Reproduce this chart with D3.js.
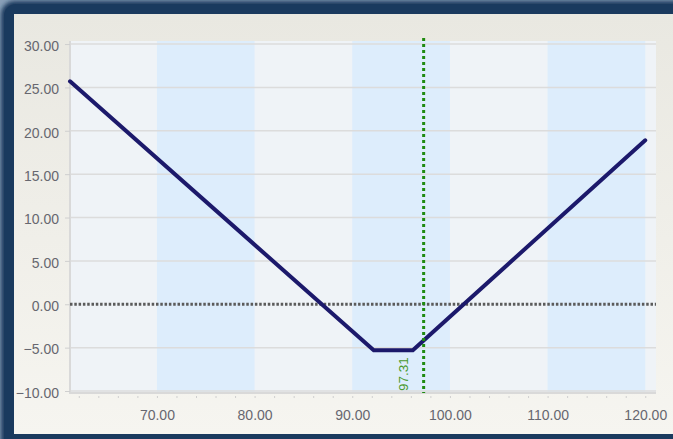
<!DOCTYPE html>
<html><head><meta charset="utf-8">
<script src="https://cdn.jsdelivr.net/npm/d3@7"></script>
<style>html,body{margin:0;padding:0;background:#fff;overflow:hidden}</style>
</head><body>
<svg id="c" width="673" height="439"></svg>
<script>
// Data
const prices = [61.1, 92.2, 96.2, 120];
const profit = [25.7, -5.3, -5.3, 18.9];
const xTicks = [70, 80, 90, 100, 110, 120];
const yTicks = [-10, -5, 0, 5, 10, 15, 20, 25, 30];
const bands = [[70, 80], [90, 100], [110, 120]];
const marker = 97.31;

const svg = d3.select("#c");
const W = 673, H = 439;
const FONT = "Liberation Sans, Arial, sans-serif";
const defs = svg.append("defs");
const blur = defs.append("filter").attr("id","blur").attr("x","-10%").attr("y","-10%").attr("width","120%").attr("height","120%");
blur.append("feGaussianBlur").attr("stdDeviation", 2);
const pg = defs.append("linearGradient").attr("id","pg").attr("x1",0).attr("y1",0).attr("x2",0).attr("y2",1);
pg.append("stop").attr("offset","0%").attr("stop-color","#e9e8e1");
pg.append("stop").attr("offset","100%").attr("stop-color","#f6f5f0");

svg.append("rect").attr("width",W).attr("height",H).attr("fill","#8aa0b8");
svg.append("rect").attr("x",1).attr("y",1).attr("width",W+20).attr("height",H+20).attr("rx",14)
  .attr("fill","#1c3b5f").attr("filter","url(#blur)");
svg.append("rect").attr("x",4).attr("y",4).attr("width",W+20).attr("height",H+20).attr("rx",12)
  .attr("fill","#1a3a5e");
svg.append("rect").attr("x",14).attr("y",14).attr("width",W).attr("height",420).attr("fill","url(#pg)");

const L = 70, R = 656, T = 41, B = 393;
const x = d3.scaleLinear().domain([61.1, 121.1]).range([L, R]);
const y = d3.scaleLinear().domain([-10.23, 30.35]).range([B, T]);

svg.append("rect").attr("x",L).attr("y",T).attr("width",R-L).attr("height",B-T).attr("fill","#eff3f7");
svg.selectAll(".band").data(bands).enter().append("rect")
  .attr("x",d=>x(d[0])).attr("y",T).attr("width",d=>x(d[1])-x(d[0])).attr("height",B-T)
  .attr("fill","#ddedfc");

// gridlines
svg.selectAll(".grid").data(yTicks.filter(v=>v!==0)).enter().append("line")
  .attr("x1",L).attr("x2",R).attr("y1",d=>y(d)).attr("y2",d=>y(d))
  .attr("stroke","#dcdcdc").attr("stroke-width",1.5);

// axes lines
svg.append("line").attr("x1",L).attr("x2",L).attr("y1",T).attr("y2",B+1).attr("stroke","#d9d9d9").attr("stroke-width",2);
svg.append("line").attr("x1",L).attr("x2",R).attr("y1",B).attr("y2",B).attr("stroke","#d9d9d9").attr("stroke-width",2);

// Y axis
const yAxis = d3.axisLeft(y).tickValues(yTicks).tickFormat(d3.format(".2f")).tickSize(5).tickPadding(6);
const ga = svg.append("g").attr("transform",`translate(${L},0)`).call(yAxis);
ga.select(".domain").remove();
ga.selectAll("line").attr("stroke","#cfcfcf");
ga.selectAll("text").attr("font-family",FONT).attr("font-size",14).attr("fill","#67676f").attr("dy","0.45em");

// X axis minor ticks
const minor = d3.range(62, 121, 2);
const xAxis = d3.axisBottom(x).tickValues(minor).tickSize(2).tickFormat("");
const gx = svg.append("g").attr("transform",`translate(0,${B+3})`).call(xAxis);
gx.select(".domain").remove();
gx.selectAll("line").attr("stroke","#cfcfcf");
const gx2 = svg.append("g").attr("transform",`translate(0,${B})`).call(d3.axisBottom(x).tickValues(xTicks).tickFormat(d3.format(".2f")).tickSize(0).tickPadding(17));
gx2.select(".domain").remove();
gx2.selectAll("text").attr("font-family",FONT).attr("font-size",14).attr("fill","#67676f");

// zero line
svg.append("line").attr("x1",L).attr("x2",R).attr("y1",y(0)).attr("y2",y(0))
  .attr("stroke","#5b5b5b").attr("stroke-width",3).attr("stroke-dasharray","2.5,1.8");

// payoff line
const pts = prices.map((p,i)=>[p, profit[i]]);
svg.append("path").datum(pts)
  .attr("d", d3.line().x(d=>x(d[0])).y(d=>y(d[1])))
  .attr("fill","none").attr("stroke","#1c196b").attr("stroke-width",4).attr("stroke-linejoin","round").attr("stroke-linecap","round");

// marker line
svg.append("line").attr("x1",x(marker)).attr("x2",x(marker)).attr("y1",T-3).attr("y2",B)
  .attr("stroke","#1f8a10").attr("stroke-width",3).attr("stroke-dasharray","3,3");
svg.append("text").attr("transform",`translate(${x(marker)-16},${B-2}) rotate(-90)`)
  .attr("font-family",FONT).attr("font-size",13.5).attr("fill","#4a9a2c")
  .text(marker.toFixed(2));
</script>
</body></html>
